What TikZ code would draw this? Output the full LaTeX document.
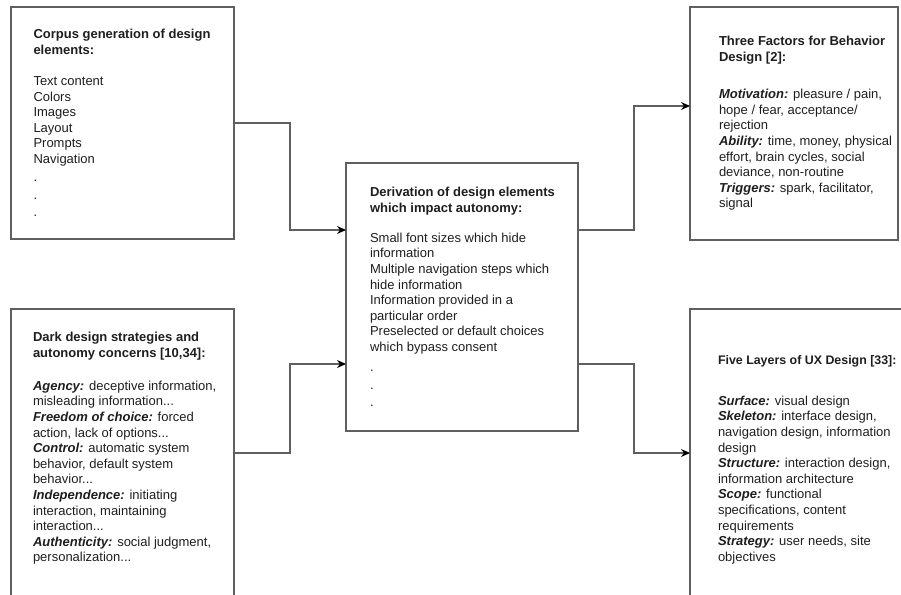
\documentclass[tikz,border=0pt]{standalone}
\usepackage{fontspec}
\setmainfont{Liberation Sans}
\usetikzlibrary{calc,arrows.meta}
\definecolor{linecol}{RGB}{95,95,95}
\definecolor{txtcol}{RGB}{30,30,30}
\newcommand{\lbl}[1]{\textbf{\textit{#1}}}
\tikzset{
  boxstyle/.style={draw=linecol, line width=1.2pt, rectangle, inner sep=0pt, outer sep=0pt},
  txt/.style={anchor=north west, inner sep=0pt, outer sep=0pt, align=left,
    font=\fontsize{13}{15.6}\selectfont, text=txtcol},
  conn/.style={draw=linecol, line width=1.2pt,
    -{Stealth[length=9pt,width=8pt,color=black]}},
}
\begin{document}
\begin{tikzpicture}[x=1pt,y=-1pt]
\useasboundingbox (0,0) rectangle (901,594);
% boxes
\node[boxstyle, minimum width=223pt, minimum height=232pt] (b1) at (122.5,123) {};
\node[boxstyle, minimum width=223pt, minimum height=288pt] (b2) at (122.5,453) {};
\node[boxstyle, minimum width=232pt, minimum height=268pt] (c) at (462,297) {};
\node[boxstyle, minimum width=208pt, minimum height=233pt] (r1) at (794,123.5) {};
\node[boxstyle, minimum width=220pt, minimum height=288pt] (r2) at (800,453) {};
% texts
\node[txt] (t1) at ($(b1.north west)+(22.5,22.3)$) {%
\textbf{Corpus generation of design}\\
\textbf{elements:}\\[15.5pt]
Text content\\ Colors\\ Images\\ Layout\\ Prompts\\ Navigation\\[2.7pt]
.\\[2pt] .\\[2pt] .};
\node[txt] (t2) at ($(b2.north west)+(22,23.3)$) {%
\textbf{Dark design strategies and}\\
\textbf{autonomy concerns [10,34]:}\\[17.4pt]
\lbl{Agency:} deceptive information,\\
misleading information...\\
\lbl{Freedom of choice:} forced\\
action, lack of options...\\
\lbl{Control:} automatic system\\
behavior, default system\\
behavior...\\
\lbl{Independence:} initiating\\
interaction, maintaining\\
interaction...\\
\lbl{Authenticity:} social judgment,\\
personalization...};
\node[txt] (tc) at ($(c.north west)+(24,24.3)$) {%
\textbf{Derivation of design elements}\\
\textbf{which impact autonomy:}\\[14.4pt]
Small font sizes which hide\\ information\\
Multiple navigation steps which\\ hide information\\
Information provided in a\\ particular order\\
Preselected or default choices\\ which bypass consent\\[4.7pt]
.\\[2.4pt] .\\[1.4pt] .};
\node[txt] (tr1) at ($(r1.north west)+(29,29.3)$) {%
\textbf{Three Factors for Behavior}\\
\textbf{Design [2]:}\\[21.8pt]
\lbl{Motivation:} pleasure / pain,\\
hope / fear, acceptance/\\
rejection\\
\lbl{Ability:} time, money, physical\\
effort, brain cycles, social\\
deviance, non-routine\\
\lbl{Triggers:} spark, facilitator,\\
signal};
\node[txt] (tr2) at ($(r2.north west)+(28,46.3)$) {%
{\fontsize{12.4}{15.6}\selectfont\textbf{Five Layers of UX Design [33]:}}\\[25.4pt]
\lbl{Surface:} visual design\\
\lbl{Skeleton:} interface design,\\
navigation design, information\\
design\\
\lbl{Structure:} interaction design,\\
information architecture\\
\lbl{Scope:} functional\\
specifications, content\\
requirements\\
\lbl{Strategy:} user needs, site\\
objectives};
% connectors
\draw[conn] (b1.east) -| (290,230) -- (c.west |- 290,230);
\draw[conn] (b2.east) -| (290,364) -- (c.west |- 290,364);
\draw[conn] (c.east |- 0,230) -| (634,106) -- (r1.west |- 634,106);
\draw[conn] (c.east |- 0,364) -| (634,453) -- (r2.west |- 634,453);
\end{tikzpicture}
\end{document}
